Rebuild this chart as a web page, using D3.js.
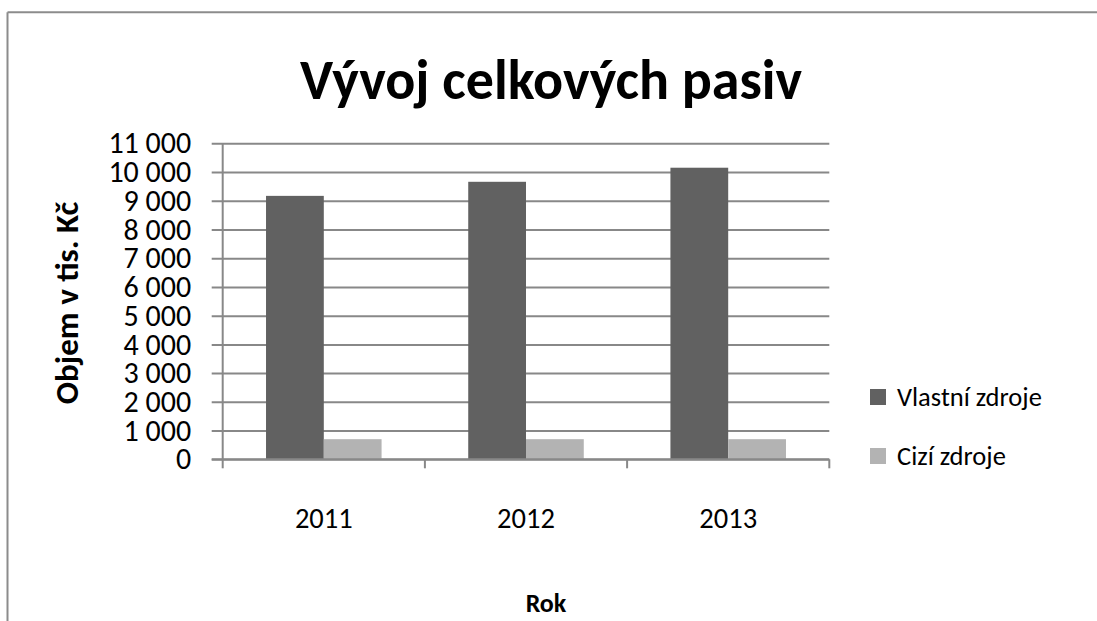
<!DOCTYPE html>
<html><head><meta charset="utf-8">
<script src="https://cdn.jsdelivr.net/npm/d3@7"></script>
<style>
html,body{margin:0;padding:0;background:#fff;}
svg{display:block;}
text{font-family:Carlito,Lato,"Open Sans",sans-serif;fill:#000;}
</style></head>
<body>
<svg id="chart" width="1097" height="621"></svg>
<script>
const years = ["2011", "2012", "2013"];
const seriesNames = ["Vlastní zdroje", "Cizí zdroje"];
const vlastniZdroje = [9170, 9660, 10150];
const ciziZdroje = [700, 700, 700];
const yTickValues = [0,1000,2000,3000,4000,5000,6000,7000,8000,9000,10000,11000];
const titleText = "Vývoj celkových pasiv";
const yTitle = "Objem v tis. Kč";
const xTitle = "Rok";

const colors = ["#616161", "#b3b3b3"];
const gridColor = "#888888";

const svg = d3.select("#chart");

// outer border (top + left visible)
svg.append("line").attr("x1",7.5).attr("x2",1097).attr("y1",12.3).attr("y2",12.3)
  .attr("stroke","#8c8c8c").attr("stroke-width",2);
svg.append("line").attr("x1",7.5).attr("x2",7.5).attr("y1",12.3).attr("y2",621)
  .attr("stroke","#8c8c8c").attr("stroke-width",2);

const plotL = 222.7, plotR = 829.3, plotT = 143.3, plotB = 459.3;

const x = d3.scaleBand().domain(years).range([plotL, plotR]).paddingInner(0).paddingOuter(0);
const y = d3.scaleLinear().domain([0, 11000]).range([plotB, plotT]);
const barW = x.bandwidth() / 3.5;
const inner = d3.scaleBand().domain(seriesNames)
  .range([barW*0.75, barW*0.75 + barW*2]).padding(0);

const loc = d3.formatLocale({decimal:",", thousands:" ", grouping:[3], currency:["",""]});
const fmt = loc.format(",d");

// y axis with gridlines
const yAxis = d3.axisLeft(y).tickValues(yTickValues).tickFormat(fmt)
  .tickSizeInner(-(plotR - (plotL - 11))).tickSizeOuter(0).tickPadding(20.5);
const gy = svg.append("g").attr("transform", `translate(${plotL - 11},0)`).call(yAxis);
gy.select(".domain").remove();
gy.selectAll(".tick line").attr("stroke", gridColor).attr("stroke-width", 2);
gy.selectAll(".tick text").style("font-size","30px").attr("fill","#000");

// bars
const data = years.map((yr,i)=>({year:yr, values:[vlastniZdroje[i], ciziZdroje[i]]}));
const groups = svg.append("g").selectAll("g").data(data).join("g")
  .attr("transform", d => `translate(${x(d.year)},0)`);
groups.selectAll("rect").data(d => d.values.map((v,j)=>({name:seriesNames[j], v, j})))
  .join("rect")
  .attr("x", d => inner(d.name))
  .attr("width", inner.bandwidth())
  .attr("y", d => y(d.v))
  .attr("height", d => y(0) - y(d.v))
  .attr("fill", d => colors[d.j]);

// y axis line
svg.append("line").attr("x1",plotL).attr("x2",plotL).attr("y1",plotT).attr("y2",plotB)
  .attr("stroke",gridColor).attr("stroke-width",2);

// x axis line + boundary ticks
svg.append("line").attr("x1",plotL-11).attr("x2",plotR).attr("y1",plotB).attr("y2",plotB)
  .attr("stroke",gridColor).attr("stroke-width",2);
const bounds = years.map(d => x(d)).concat([x(years[years.length-1]) + x.bandwidth()]);
svg.append("g").selectAll("line").data(bounds).join("line")
  .attr("x1", d=>d).attr("x2", d=>d).attr("y1", plotB).attr("y2", plotB + 9)
  .attr("stroke", gridColor).attr("stroke-width", 2);

// x labels
const xAxis = d3.axisBottom(x).tickSize(0).tickPadding(0);
const gx = svg.append("g").attr("transform", `translate(0,${plotB})`).call(xAxis);
gx.select(".domain").remove();
gx.selectAll(".tick text").attr("y", 59).attr("dy", "0.35em").style("font-size","28.5px").attr("fill","#000");

// title
svg.append("text").attr("x", 551).attr("y", 80).attr("text-anchor","middle")
  .attr("dominant-baseline","central")
  .style("font-size","56px").style("font-weight","bold").text(titleText);

// axis titles
svg.append("text").attr("transform","translate(67,303) rotate(-90)")
  .attr("text-anchor","middle").attr("dominant-baseline","central")
  .style("font-size","33px").style("font-weight","bold").text(yTitle);
svg.append("text").attr("x", 546).attr("y", 603).attr("text-anchor","middle")
  .attr("dominant-baseline","central")
  .style("font-size","26px").style("font-weight","bold").text(xTitle);

// legend
const lg = svg.append("g").selectAll("g").data(seriesNames).join("g")
  .attr("transform", (d,i) => `translate(870,${397 + i*59})`);
lg.append("rect").attr("x",0).attr("y",-8).attr("width",16).attr("height",16)
  .attr("fill", (d,i)=>colors[i]);
lg.append("text").attr("x",27).attr("y",0).attr("dominant-baseline","central")
  .style("font-size","26.5px").text(d=>d);
</script>
</body></html>
